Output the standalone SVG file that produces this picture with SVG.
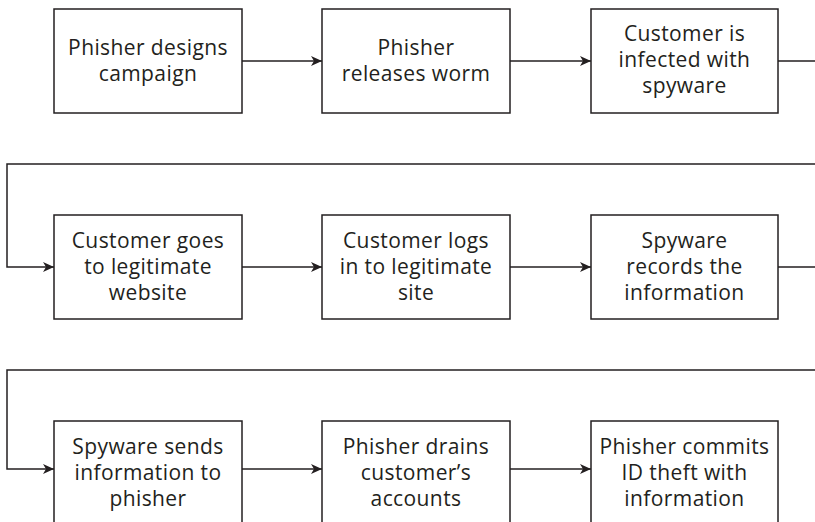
<svg xmlns="http://www.w3.org/2000/svg" width="815" height="522" viewBox="0 0 815 522">
<style>
.box{fill:#fff;stroke:#231f20;stroke-width:1.5}
.ln{fill:none;stroke:#231f20;stroke-width:1.5}
text{font-family:"Open Sans","Noto Sans",sans-serif;font-size:21px;letter-spacing:0.4px;fill:#231f20;text-anchor:middle}
</style>
<defs>
<marker id="ah" markerWidth="12" markerHeight="10" refX="11" refY="5" orient="auto" markerUnits="userSpaceOnUse">
<path d="M0,0 L11,5 L0,10 L3,5 Z" fill="#231f20"/>
</marker>
</defs>
<g id="connectors">
<line class="ln" x1="242" y1="61" x2="322" y2="61" marker-end="url(#ah)"/>
<line class="ln" x1="510" y1="61" x2="591" y2="61" marker-end="url(#ah)"/>
<path class="ln" d="M778,61 H830 V164 H7 V267 H54" marker-end="url(#ah)"/>
<line class="ln" x1="242" y1="267" x2="322" y2="267" marker-end="url(#ah)"/>
<line class="ln" x1="510" y1="267" x2="591" y2="267" marker-end="url(#ah)"/>
<path class="ln" d="M778,267 H830 V370 H7 V469 H54" marker-end="url(#ah)"/>
<line class="ln" x1="242" y1="469" x2="322" y2="469" marker-end="url(#ah)"/>
<line class="ln" x1="510" y1="469" x2="591" y2="469" marker-end="url(#ah)"/>
</g>
<g id="n1"><rect class="box" x="54" y="9" width="188" height="104"/><text x="148" y="55">Phisher designs</text><text x="148" y="81">campaign</text></g>
<g id="n2"><rect class="box" x="322" y="9" width="188" height="104"/><text x="416" y="55">Phisher</text><text x="416" y="81">releases worm</text></g>
<g id="n3"><rect class="box" x="591" y="9" width="187" height="104"/><text x="684.5" y="41">Customer is</text><text x="684.5" y="67">infected with</text><text x="684.5" y="93">spyware</text></g>
<g id="n4"><rect class="box" x="54" y="215" width="188" height="104"/><text x="148" y="248">Customer goes</text><text x="148" y="274">to legitimate</text><text x="148" y="300">website</text></g>
<g id="n5"><rect class="box" x="322" y="215" width="188" height="104"/><text x="416" y="248">Customer logs</text><text x="416" y="274">in to legitimate</text><text x="416" y="300">site</text></g>
<g id="n6"><rect class="box" x="591" y="215" width="187" height="104"/><text x="684.5" y="248">Spyware</text><text x="684.5" y="274">records the</text><text x="684.5" y="300">information</text></g>
<g id="n7"><rect class="box" x="54" y="421" width="188" height="104"/><text x="148" y="454">Spyware sends</text><text x="148" y="480">information to</text><text x="148" y="506">phisher</text></g>
<g id="n8"><rect class="box" x="322" y="421" width="188" height="104"/><text x="416" y="454">Phisher drains</text><text x="416" y="480">customer’s</text><text x="416" y="506">accounts</text></g>
<g id="n9"><rect class="box" x="591" y="421" width="187" height="104"/><text x="684.5" y="454">Phisher commits</text><text x="684.5" y="480">ID theft with</text><text x="684.5" y="506">information</text></g>
</svg>
